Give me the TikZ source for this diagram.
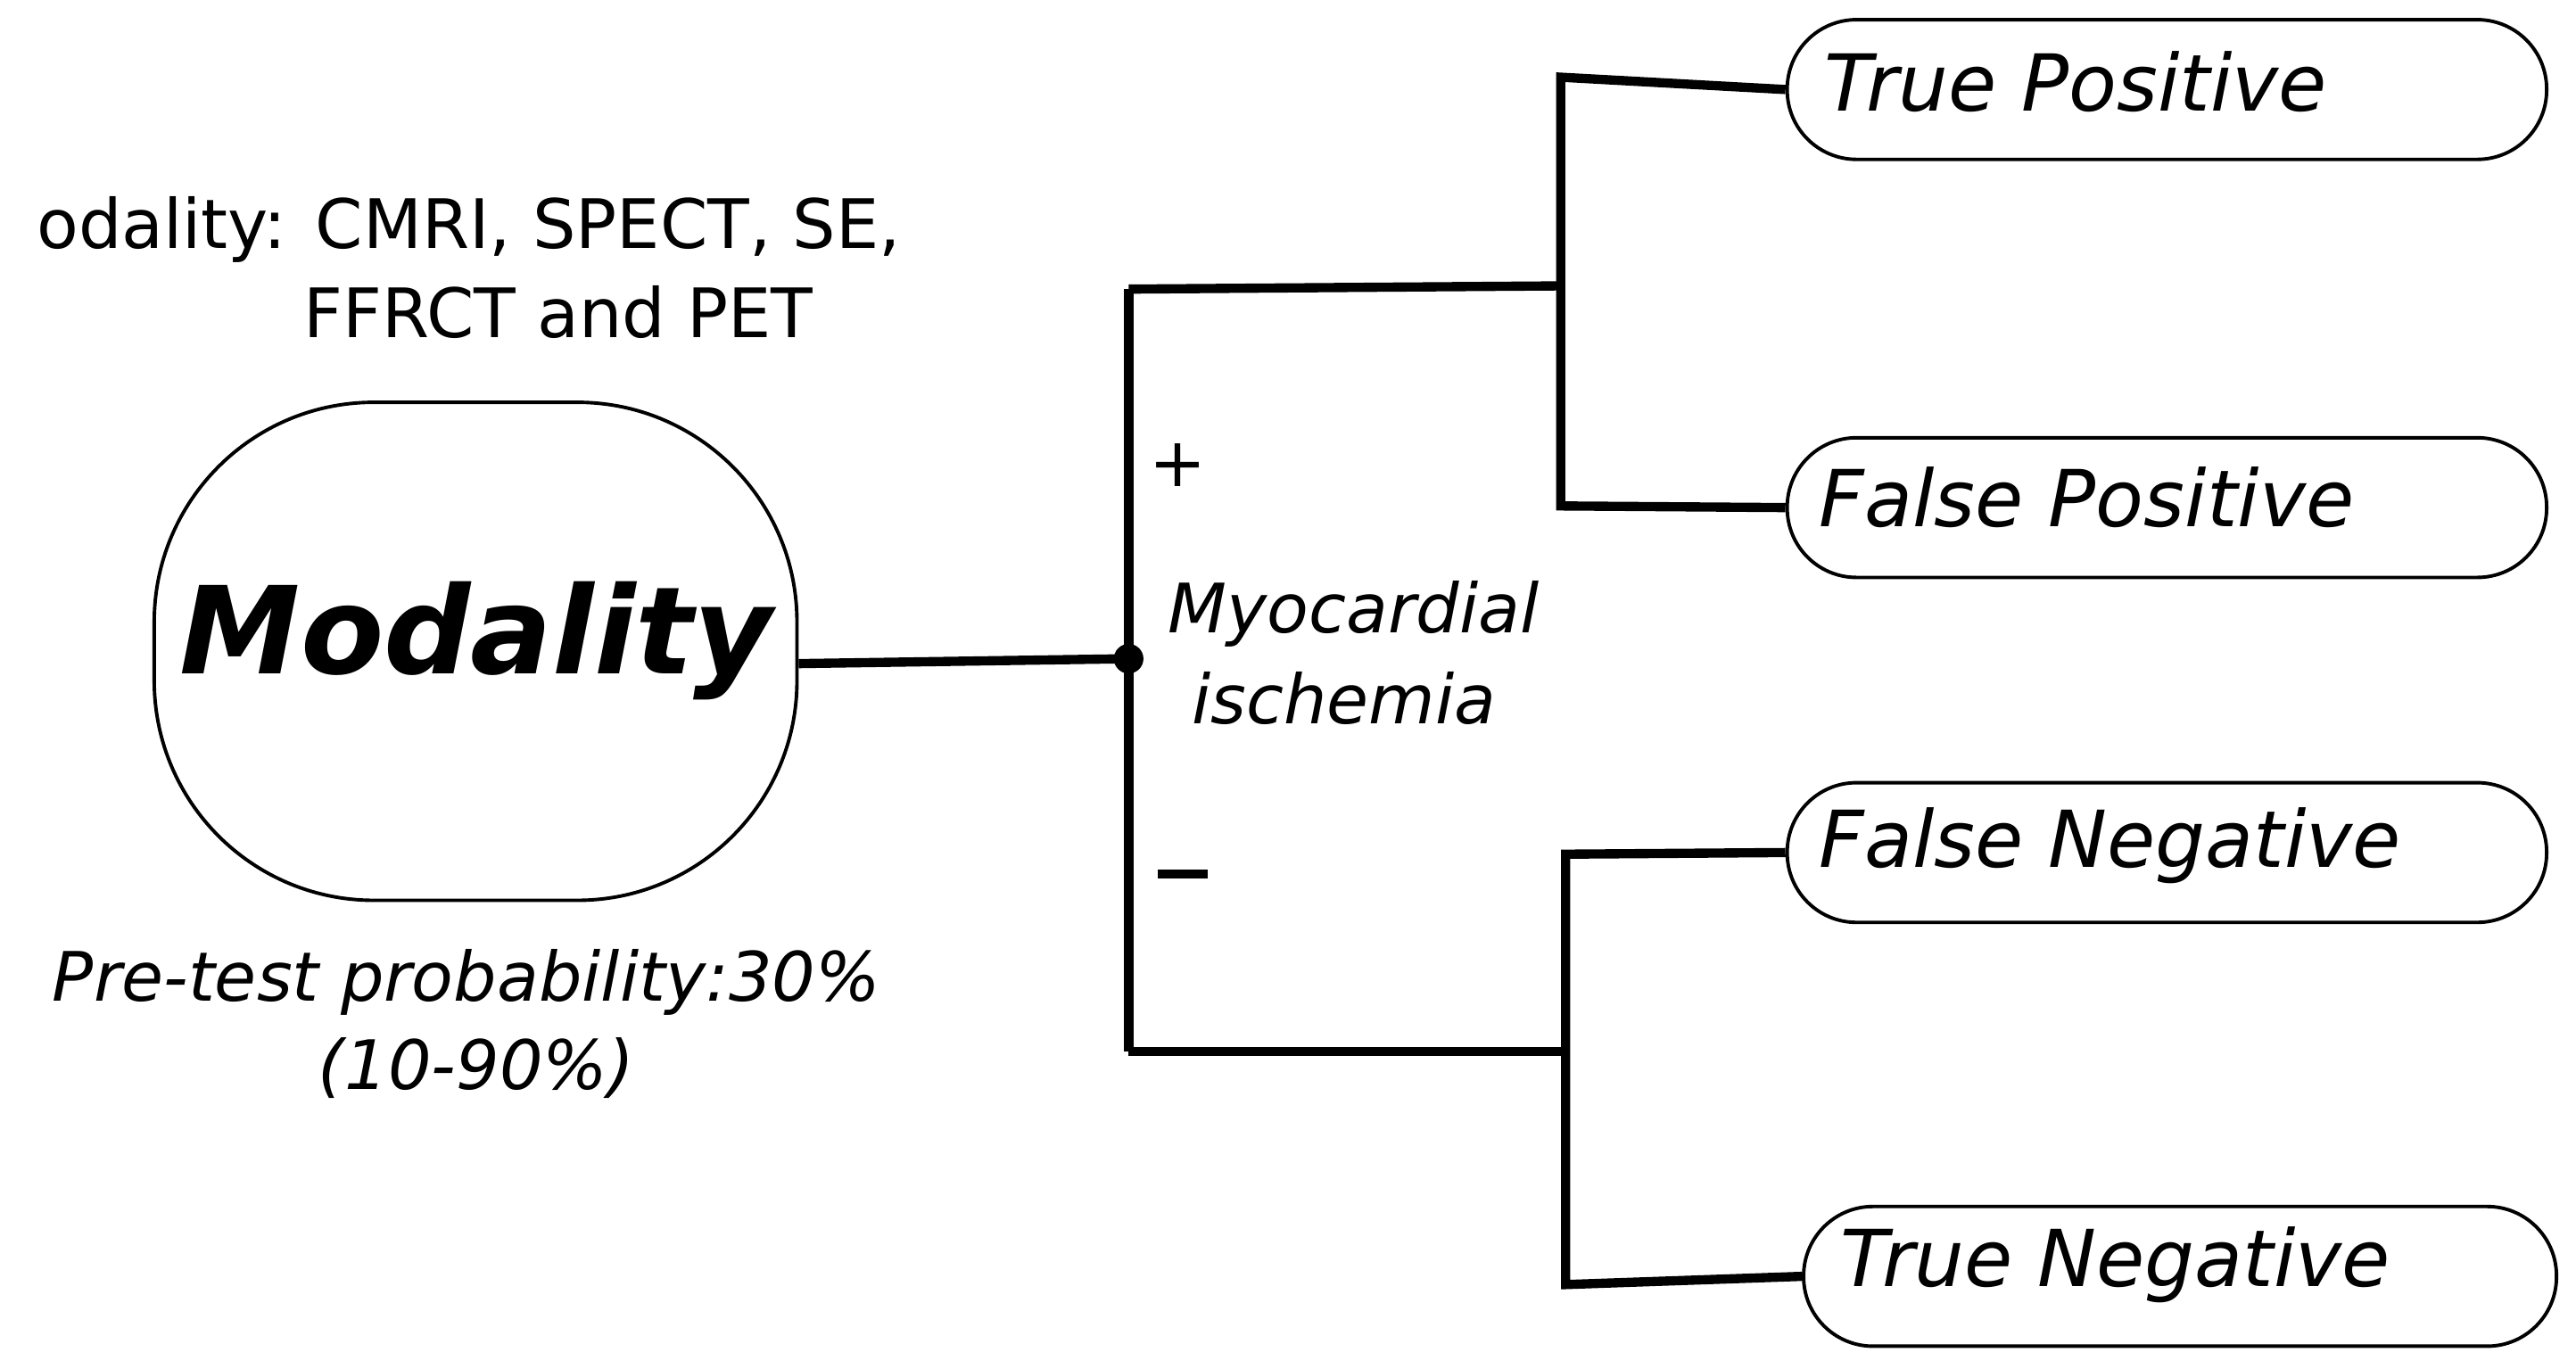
\documentclass[tikz,border=0pt]{standalone}
\usepackage{fontspec}
\setmainfont{DejaVu Sans}
\begin{document}
\begin{tikzpicture}[x=0.01cm,y=-0.01cm,
  ln/.style={line width=1.6pt},
  res/.style={draw,line width=0.6pt,rounded corners=12pt,minimum width=4.62cm,minimum height=0.85cm},
  lab/.style={anchor=west,font=\fontsize{13.6}{16}\selectfont\itshape},
  txt/.style={font=\fontsize{11.8}{14}\selectfont}]
\useasboundingbox (0,0) rectangle (1568,833);
\node[draw,line width=0.6pt,rounded corners=38pt,minimum width=3.91cm,minimum height=3.03cm] (mod) at (289.5,396.5) {};
\node[font=\fontsize{21}{24}\selectfont\bfseries\itshape] at (290,390) {Modality};
\node[txt,anchor=west] (l1) at (10,140) {odality: CMRI, SPECT, SE,};
\node[txt] (l2) at (340,190) {FFRCT and PET};
\node[txt,font=\fontsize{11.8}{14}\selectfont\itshape] (p1) at (284,598) {Pre-test probability:30\%};
\node[txt,font=\fontsize{11.8}{14}\selectfont\itshape] (p2) at (290,650) {(10-90\%)};
\coordinate (dot) at (687,401);
\fill (dot) circle (9);
\coordinate (vt) at (687,176); \coordinate (vb) at (687,640);
\coordinate (ht) at (952,174); \coordinate (hb) at (953,640);
\draw[ln] (mod.east |- 0,404) -- (dot);
\draw[ln] (vt) -- (vb);
\draw[ln] (vt) -- (ht);
\draw[ln] (vb) -- (hb);
\node[res] (tp) at (1319,54.5) {};
\node[res] (fp) at (1319,309) {};
\node[res] (fn) at (1319,519) {};
\node[res,minimum width=4.58cm] (tn) at (1327,777) {};
\node[lab] at (1098,50) {True Positive};
\node[lab] at (1095,303) {False Positive};
\node[lab] at (1095,515) {False Negative};
\node[lab] at (1108,770) {True Negative};
\draw[ln] (tp.west) -- (950,47) -- (950,308) -- (fp.west);
\draw[ln] (fn.west) -- (953,520) -- (953,782) -- (tn.west);
\node[txt] at (717,283) {+};
\draw[ln] (705,532) -- (735,532);
\node[txt,font=\fontsize{11.8}{14}\selectfont\itshape] at (824,374) {Myocardial};
\node[txt,font=\fontsize{11.8}{14}\selectfont\itshape] at (818,425) {ischemia};
\end{tikzpicture}
\end{document}
